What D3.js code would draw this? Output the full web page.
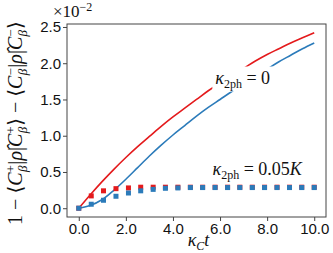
<!DOCTYPE html>
<html lang="en">
<head>
<meta charset="utf-8">
<title>Decay chart</title>
<script src="https://d3js.org/d3.v7.min.js"></script>
<style>
  body { margin: 0; background: #fff; }
  svg { display: block; }
  .tick text { font-family: "Liberation Sans", Arial, sans-serif; font-size: 15px; fill: #111; }
  .math { font-family: "Liberation Serif", "DejaVu Serif", serif; fill: #111; }
</style>
</head>
<body>
<svg width="333" height="253"></svg>
<script>
// continuous curves (units of 1e-2)
const tLine = [0, 0.5, 1, 1.5, 2, 2.5, 3, 3.5, 4, 4.5, 5, 5.5, 6, 6.5, 7, 7.5, 8, 8.5, 9, 9.5, 10];
const redLine = [0, 0.19, 0.37, 0.54, 0.70, 0.85, 0.99, 1.13, 1.26, 1.38, 1.50, 1.62, 1.73, 1.83, 1.93, 2.03, 2.12, 2.20, 2.28, 2.35, 2.42];
const blueLine = [0, 0.04, 0.12, 0.25, 0.40, 0.56, 0.72, 0.87, 1.01, 1.14, 1.27, 1.39, 1.50, 1.61, 1.71, 1.82, 1.92, 2.02, 2.11, 2.20, 2.28];

// square markers, kappa_2ph = 0.05K
const tDots = [0, 0.53, 1.05, 1.58, 2.11, 2.63, 3.16, 3.68, 4.21, 4.74, 5.26, 5.79, 6.32, 6.84, 7.37, 7.89, 8.42, 8.95, 9.47, 10];
const redDots = [0, 0.17, 0.24, 0.27, 0.28, 0.29, 0.29, 0.29, 0.29, 0.29, 0.29, 0.29, 0.29, 0.29, 0.29, 0.29, 0.29, 0.29, 0.29, 0.29];
const blueDots = [0, 0.055, 0.11, 0.165, 0.21, 0.24, 0.26, 0.275, 0.28, 0.285, 0.285, 0.285, 0.285, 0.285, 0.285, 0.285, 0.285, 0.285, 0.285, 0.285];

const xTicks = [0, 2, 4, 6, 8, 10];
const yTicks = [0, 0.5, 1.0, 1.5, 2.0, 2.5];

const svg = d3.select("svg");
const mLeft = 67, mRight = 326, mTop = 24, mBottom = 217;
const red = "#e41a1c", blue = "#2b7bba";

const x = d3.scaleLinear().domain([-0.5, 10.5]).range([mLeft, mRight]);
const y = d3.scaleLinear().domain([-0.121, 2.541]).range([mBottom, mTop]);

// axes
const xAxis = svg.append("g").attr("transform", `translate(0,${mBottom})`)
  .call(d3.axisBottom(x).tickValues(xTicks).tickFormat(d3.format(".1f")).tickSize(4).tickPadding(2));
const yAxis = svg.append("g").attr("transform", `translate(${mLeft},0)`)
  .call(d3.axisLeft(y).tickValues(yTicks).tickFormat(d3.format(".1f")).tickSize(4).tickPadding(2));
[xAxis, yAxis].forEach(a => {
  a.select(".domain").remove();
  a.selectAll(".tick line").attr("stroke", "#444");
});

svg.append("rect").attr("x", mLeft).attr("y", mTop)
  .attr("width", mRight - mLeft).attr("height", mBottom - mTop)
  .attr("fill", "none").attr("stroke", "#444").attr("stroke-width", 1);

// lines
const line = d3.line().x((d, i) => x(tLine[i])).y(d => y(d)).curve(d3.curveCatmullRom);
svg.append("path").attr("d", line(redLine)).attr("fill", "none").attr("stroke", red).attr("stroke-width", 1.6);
svg.append("path").attr("d", line(blueLine)).attr("fill", "none").attr("stroke", blue).attr("stroke-width", 1.6);

// squares
const sq = 5;
svg.append("g").selectAll("rect").data(redDots).join("rect")
  .attr("x", (d, i) => x(tDots[i]) - sq / 2).attr("y", d => y(d) - sq / 2)
  .attr("width", sq).attr("height", sq).attr("fill", red);
svg.append("g").selectAll("rect").data(blueDots).join("rect")
  .attr("x", (d, i) => x(tDots[i]) - sq / 2).attr("y", d => y(d) - sq / 2)
  .attr("width", sq).attr("height", sq).attr("fill", blue);

// annotation helper: kappa_2ph = value, with white box
function kappaLabel(tx, ty, rhs) {
  const g = svg.append("g");
  const box = g.append("rect").attr("fill", "#fff");
  const t = g.append("text").attr("class", "math").attr("x", tx).attr("y", ty).attr("font-size", 18);
  t.append("tspan").attr("font-style", "italic").text("κ");
  t.append("tspan").attr("dy", 4).attr("font-size", 12).text("2ph");
  t.append("tspan").attr("dy", -4).text(" = " + rhs[0]);
  if (rhs[1]) t.append("tspan").attr("font-style", "italic").text(rhs[1]);
  const b = t.node().getBBox();
  box.attr("x", b.x - 3).attr("y", b.y - 1).attr("width", b.width + 6).attr("height", b.height + 2);
}
kappaLabel(x(5.8), y(1.72), ["0"]);
kappaLabel(x(5.68), y(0.46), ["0.05", "K"]);

// x label
const xl = svg.append("text").attr("class", "math").attr("x", (mLeft + mRight) / 2 + 2).attr("y", 246)
  .attr("text-anchor", "middle").attr("font-size", 18);
xl.append("tspan").attr("font-style", "italic").text("κ");
xl.append("tspan").attr("dy", 4).attr("font-size", 12).attr("font-style", "italic").text("C");
xl.append("tspan").attr("dy", -4).attr("font-style", "italic").text("t");

// offset label
const off = svg.append("text").attr("class", "math").attr("x", 53).attr("y", 17).attr("font-size", 17);
off.append("tspan").text("×10");
off.append("tspan").attr("dy", -6).attr("font-size", 12).text("−2");

// y label
const yl = svg.append("text").attr("class", "math").attr("font-size", 20)
  .attr("text-anchor", "middle").attr("transform", "translate(22,123) rotate(-90)");
function bra(sign) {
  yl.append("tspan").text("⟨");
  yl.append("tspan").attr("font-style", "italic").text("C");
  yl.append("tspan").attr("dy", -7).attr("font-size", 13).text(sign);
  yl.append("tspan").attr("dy", 12).attr("dx", -7).attr("font-size", 13).attr("font-style", "italic").text("β");
  yl.append("tspan").attr("dy", -5).attr("dx", 1).text("|");
  yl.append("tspan").attr("font-style", "italic").text("ρ̂");
  yl.append("tspan").text("|");
  yl.append("tspan").attr("font-style", "italic").text("C");
  yl.append("tspan").attr("dy", -7).attr("font-size", 13).text(sign);
  yl.append("tspan").attr("dy", 12).attr("dx", -7).attr("font-size", 13).attr("font-style", "italic").text("β");
  yl.append("tspan").attr("dy", -5).attr("dx", 1).text("⟩");
}
yl.append("tspan").text("1 − ");
bra("+");
yl.append("tspan").text(" − ");
bra("−");
</script>
</body>
</html>
